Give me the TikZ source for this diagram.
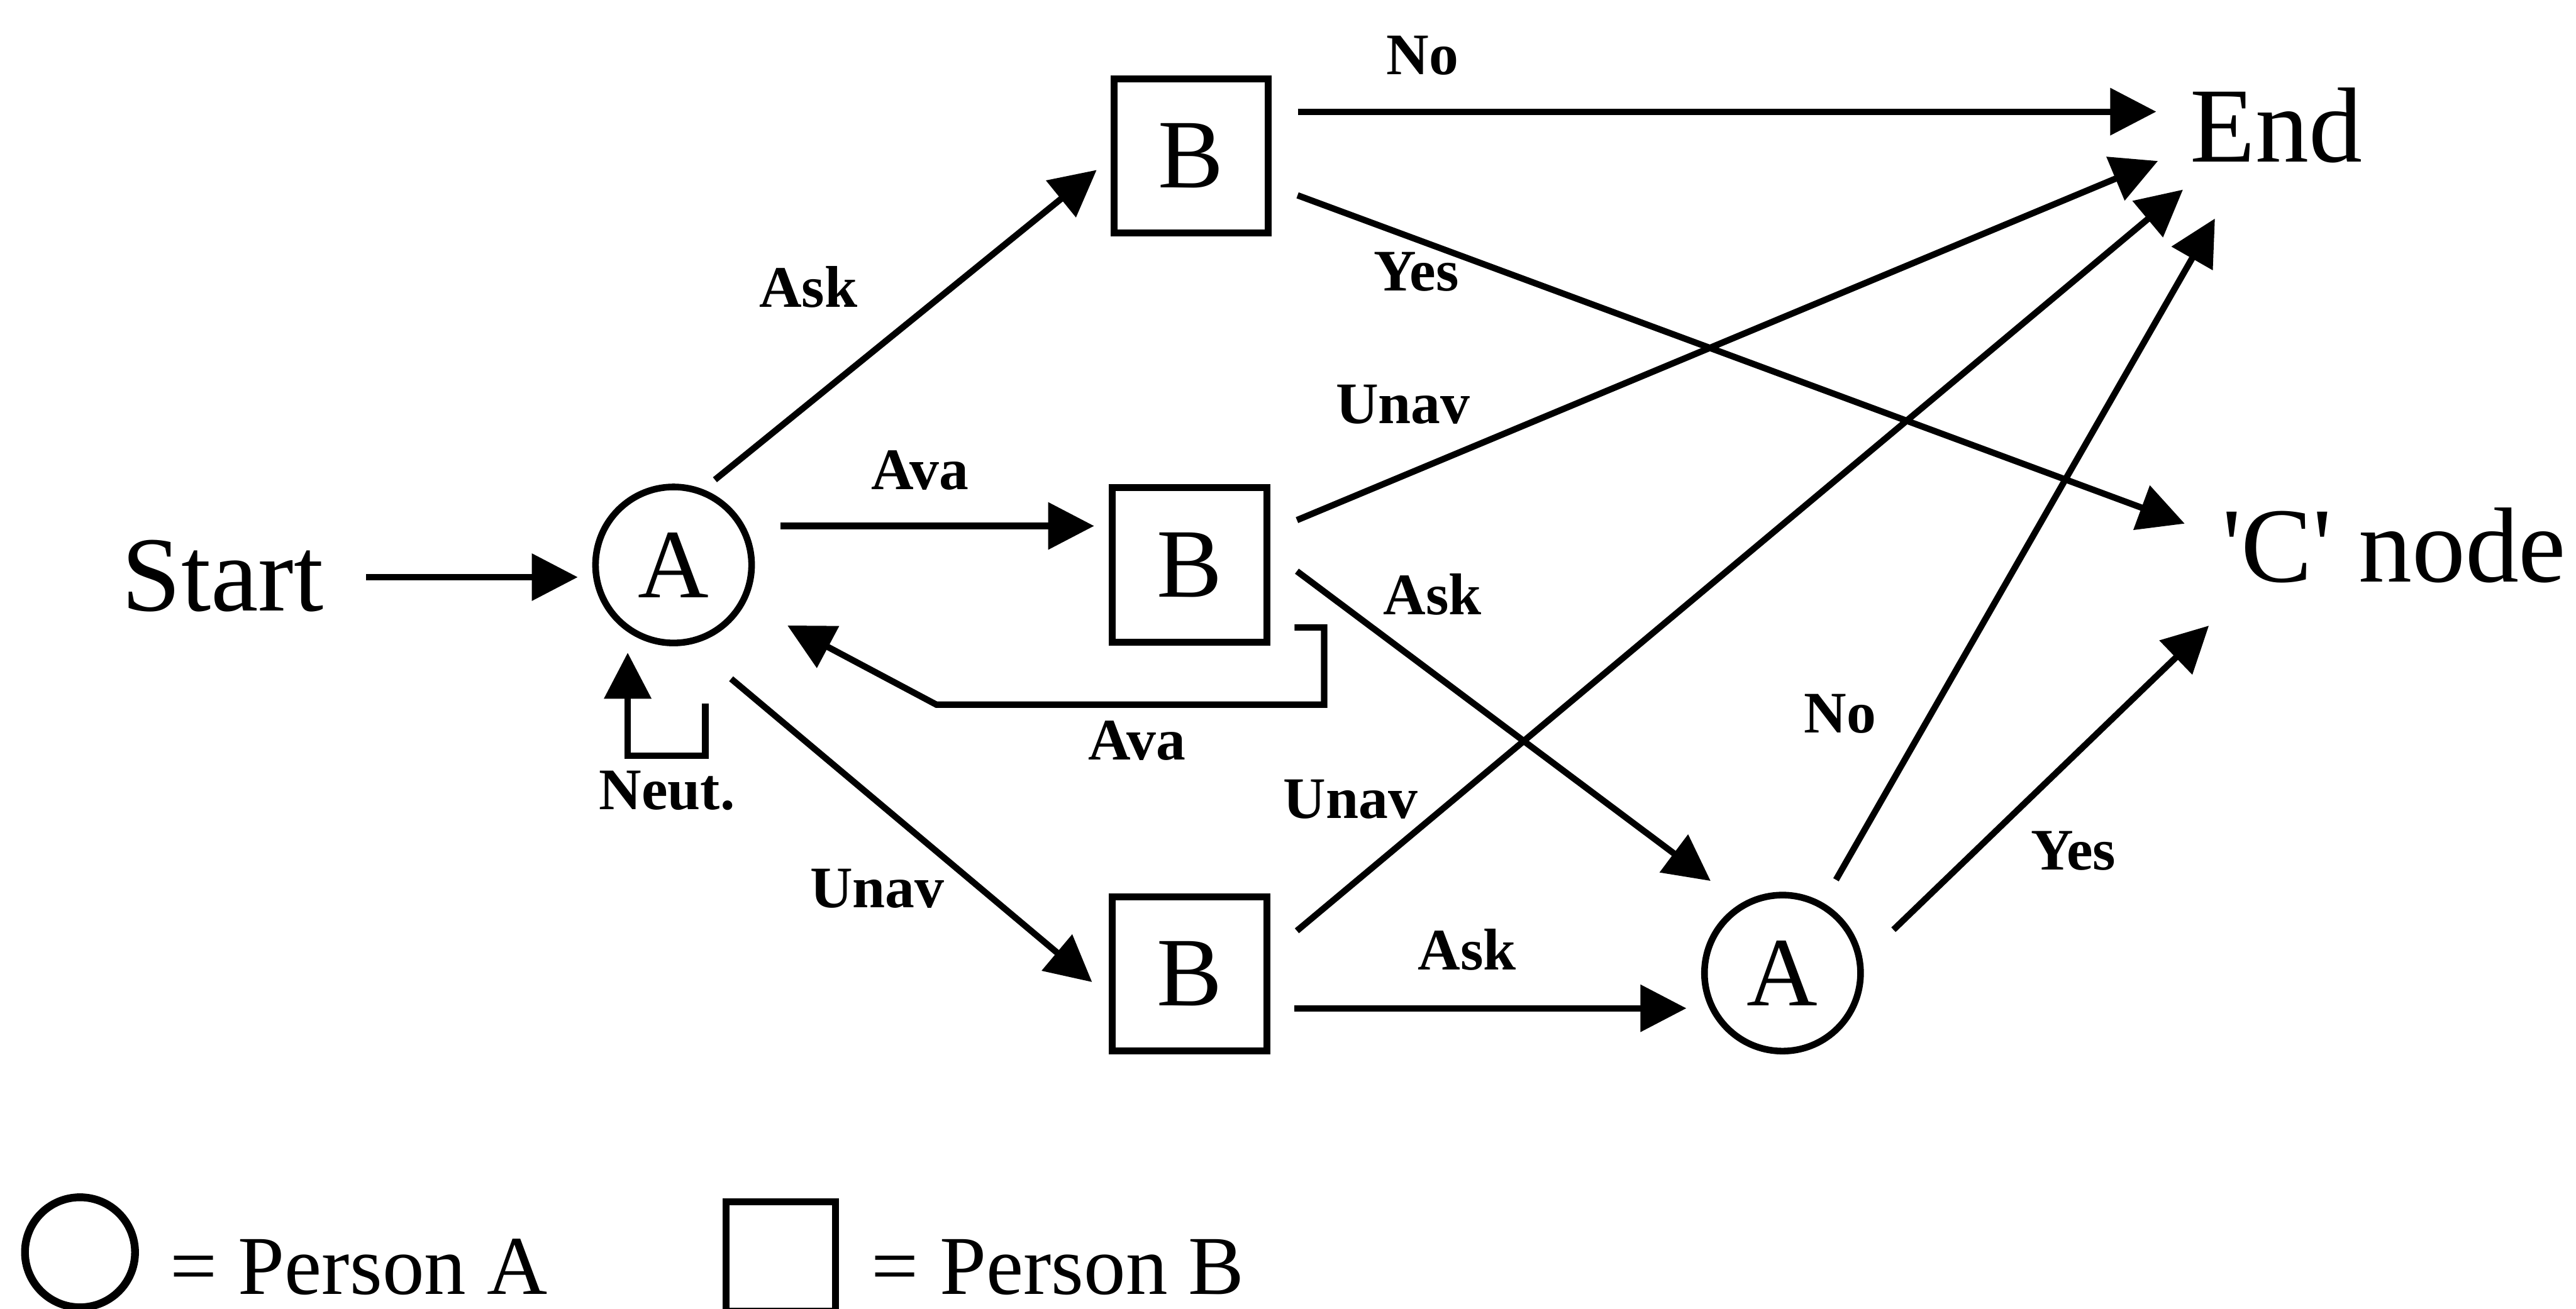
\documentclass[tikz,border=0pt]{standalone}
\usepackage{fontspec}
\setmainfont{Liberation Serif}
\usetikzlibrary{arrows.meta,calc}

\begin{document}
\begin{tikzpicture}[x=0.1mm,y=-0.1mm,
  every node/.style={inner sep=0pt, outer sep=0pt},
  pa/.style={circle, draw, line width=1.15pt, minimum size=9.5mm,
    font=\fontsize{17}{18}\selectfont},
  pb/.style={rectangle, draw, line width=1.2pt, minimum size=9.4mm,
    font=\fontsize{17}{18}\selectfont},
  term/.style={font=\fontsize{18.5}{20}\selectfont, anchor=base},
  legtext/.style={font=\fontsize{14.5}{16}\selectfont, anchor=base},
  lbl/.style={font=\bfseries\fontsize{10.2}{12}\selectfont, anchor=base},
  conn/.style={line width=1.1pt, -{Triangle[length=2.8mm,width=2.8mm]}}
]
% canvas
\path[fill=white] (0,0) rectangle (1568,797);
\useasboundingbox (0,0) rectangle (1568,797);

% states
\node[term] (start) at (135.5,372) {Start};
\node[pa] (a1) at (410,344) {A};
\node[pb] (b1) at (725,95) {B};
\node[pb] (b2) at (724,344) {B};
\node[pb] (b3) at (724,593) {B};
\node[pa] (a2) at (1085,592.5) {A};
\node[term] (end) at (1385.5,98.7) {End};
\node[term] (cn) at (1457.3,354.2) {\textquotesingle C\textquotesingle{} node};

% points the outcome arrows converge on
\coordinate (endhub) at ([yshift=3.07mm]end.base);
\coordinate (chub) at ([xshift=-7.03mm,yshift=1.42mm]cn.base);

% transitions
\draw[conn, shorten <=2.6mm, shorten >=1.14mm] (start.east |- a1.189) -- (a1.189);
\draw[conn, shorten <=1.15mm, shorten >=1.35mm] (a1.70) -- (b1.west);
\draw[conn, shorten <=2.4mm, shorten >=1.1mm] (a1.30) -- (a1.30 -| b2.west);
\draw[conn, shorten <=3.5mm, shorten >=1.6mm] (a1.-80) -- (b3.198);
\draw[conn, shorten >=3.1mm] ([xshift=1.7mm]b2.-39) -- ++(18,0) -- ++(0,47) -- ++(-236,0) -- (a1);
\draw[conn, shorten >=1.5mm] ([yshift=-4.1mm]a1.-66) -- ++(0,31.6) -| (a1.234);

\draw[conn, shorten <=1.8mm, shorten >=7.3mm] (endhub -| b1.east) -- (endhub);
\draw[conn, shorten <=1.9mm, shorten >=6.1mm] (b1) -- (chub);
\draw[conn, shorten <=2mm, shorten >=7.8mm] (b2) -- (endhub);
\draw[conn, shorten <=2.3mm, shorten >=2.5mm] (b2.12) -- (a2.120);
\draw[conn, shorten <=2.4mm, shorten >=7.4mm] (b3.13) -- (endhub);
\draw[conn, shorten <=1.7mm, shorten >=1.1mm] (b3.-24) -- (b3.-24 -| a2.west);
\draw[conn, shorten <=1.8mm, shorten >=7.5mm] (a2) -- (endhub);
\draw[conn, shorten <=2.85mm, shorten >=5.9mm] (a2.8) -- (chub);

% transition labels
\node[lbl] (lAsk1) at (492,187) {Ask};
\node[lbl] (lAva1) at (560,298) {Ava};
\node[lbl] (lUnav1) at (534,552.6) {Unav};
\node[lbl] (lAva2) at (692,462.8) {Ava};
\node[lbl] (lNeut) at (406,493) {Neut.};
\node[lbl] (lNo1) at (866,45.5) {No};
\node[lbl] (lYes1) at (862,177) {Yes};
\node[lbl] (lUnav2) at (854,258) {Unav};
\node[lbl] (lAsk2) at (872,374.4) {Ask};
\node[lbl] (lUnav3) at (822,498.2) {Unav};
\node[lbl] (lAsk3) at (893,590.5) {Ask};
\node[lbl] (lNo2) at (1120,446.3) {No};
\node[lbl] (lYes2) at (1262,529.8) {Yes};

% key
\node[circle, draw, line width=1.35pt, minimum size=6.7mm] (keyA) at (48.7,762.5) {};
\node[legtext] (keyAt) at (218.4,788) {= Person A};
\node[rectangle, draw, line width=1.2pt, minimum size=6.66mm] (keyB) at (475.3,765) {};
\node[legtext] (keyBt) at (644,788) {= Person B};
\end{tikzpicture}
\end{document}
